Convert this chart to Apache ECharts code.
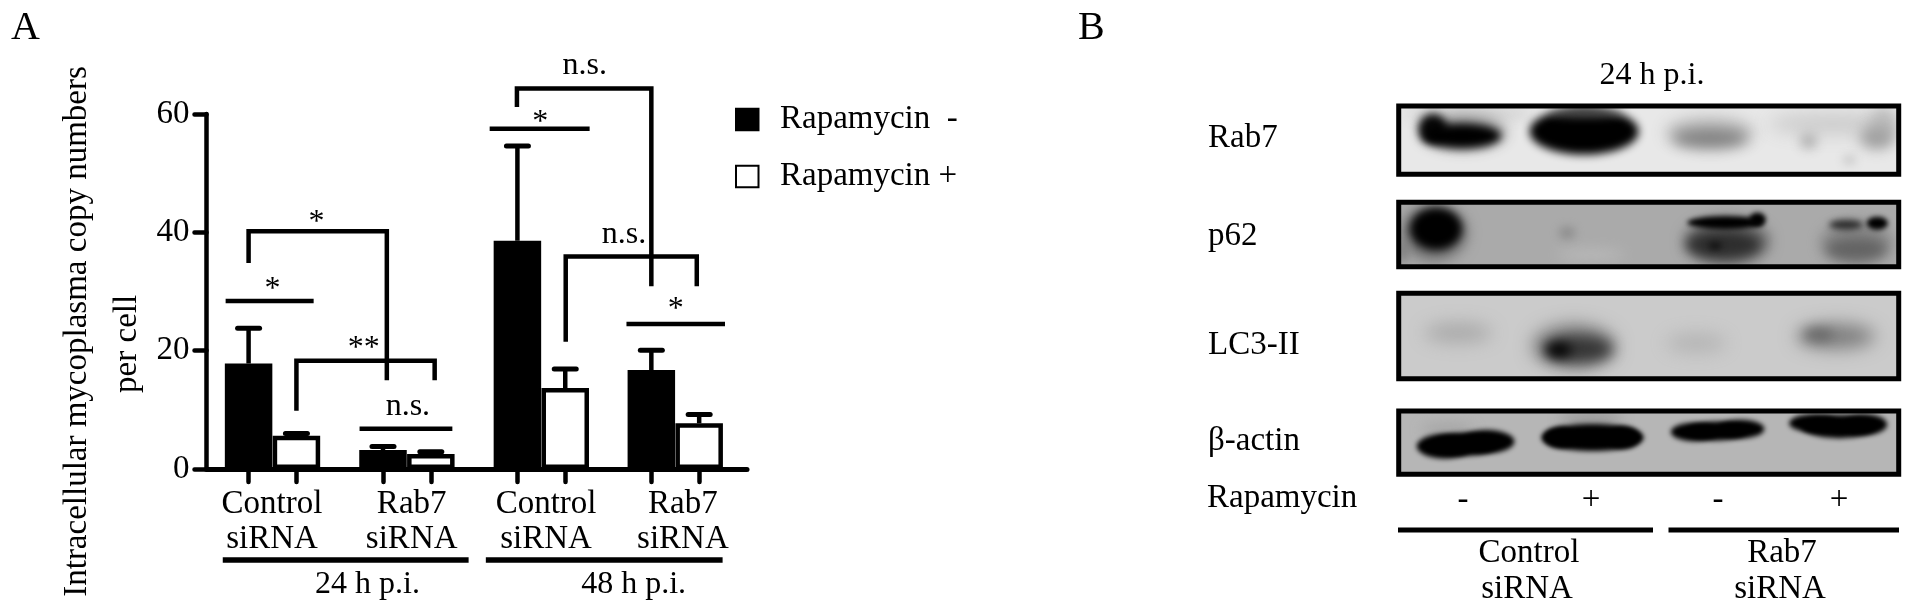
<!DOCTYPE html>
<html>
<head>
<meta charset="utf-8">
<style>html,body{margin:0;padding:0;background:#fff}#c{width:1913px;height:614px}</style>
<script src="https://cdn.jsdelivr.net/npm/echarts@6/dist/echarts.min.js"></script>
</head>
<body>
<div id="c"></div>
<script>
// ---------- Panel A data ----------
const seriesNames = ['Rapamycin  -', 'Rapamycin +'];
const xMinus = [0, 2.81, 5.62, 8.42];
const xPlus = [1, 3.81, 6.62, 9.42];
const minusValues = [17.83, 3.2, 38.58, 16.73];
const plusValues = [5.63, 2.53, 13.69, 7.72];
const minusErrorTop = [23.8, 3.8, 54.6, 20.05];
const plusErrorTop = [6.0, 2.9, 16.9, 9.2];
const yTicks = [0, 20, 40, 60];
const xLabelAt = [0.49, 3.41, 6.22, 9.08];
const xLabels = ['Control\nsiRNA', 'Rab7\nsiRNA', 'Control\nsiRNA', 'Rab7\nsiRNA'];
const yTitle = 'Intracellular mycoplasma copy numbers\nper cell   ';
const brackets = [
  [[0, 34.8], [0, 40.2], [2.89, 40.2], [2.89, 15.0]],
  [[1, 9.85], [1, 18.3], [3.89, 18.3], [3.89, 15.0]],
  [[5.61, 61.2], [5.61, 64.3], [8.42, 64.3], [8.42, 30.9]],
  [[6.63, 21.5], [6.63, 35.9], [9.37, 35.9], [9.37, 30.9]]
];
const sigLines = [
  [[-0.48, 28.4], [1.36, 28.4]],
  [[2.32, 6.8], [4.26, 6.8]],
  [[5.04, 57.5], [7.13, 57.5]],
  [[7.90, 24.5], [9.96, 24.5]]
];
const groupLines = [
  [[-0.54, -15.4], [4.60, -15.4]],
  [[4.96, -15.4], [9.91, -15.4]]
];
const notes = [
  [0.5, 30.25, '*'], [1.42, 41.7, '*'], [2.41, 20.3, '**'], [3.33, 10.5, 'n.s.'],
  [7.03, 68.1, 'n.s.'], [6.10, 58.6, '*'], [7.85, 39.7, 'n.s.'], [8.93, 27.0, '*'],
  [2.485, -19.55, '24 h p.i.'], [8.05, -19.55, '48 h p.i.']
];

// ---------- Panel B data (gel units) ----------
const blotNames = ['Rab7', 'p62', 'LC3-II', '\u03b2-actin'];
const blotFrames = [[55, 47, 1525, 248], [55, 330, 1525, 520], [55, 598, 1525, 849], [55, 944, 1525, 1130]];
const blotBackgrounds = ['#e8e8e8', '#aaaaaa', '#cbcbcb', '#b6b6b6'];
const rab7Bands = [
  [260, 70, 190, 14, '#c4c4c4', 14], [1330, 100, 190, 32, '#cccccc', 18], [1480, 100, 40, 50, '#bcbcbc', 14],
  [245, 125, 125, 48, '#8c8c8c', 14], [155, 112, 42, 42, '#080808', 9], [240, 135, 115, 36, '#000000', 8],
  [600, 122, 160, 68, '#000000', 9], [605, 70, 110, 9, '#666666', 8],
  [970, 125, 130, 44, '#b8b8b8', 16], [970, 142, 110, 26, '#808080', 14],
  [1260, 150, 24, 22, '#acacac', 12], [1460, 140, 50, 34, '#a0a0a0', 14], [1380, 205, 20, 14, '#c8c8c8', 10]
];
const p62Bands = [
  [160, 420, 95, 80, '#6a6a6a', 14], [165, 408, 76, 62, '#000000', 9], [68, 475, 12, 36, '#777777', 10],
  [620, 485, 100, 15, '#bcbcbc', 14], [550, 420, 24, 18, '#8c8c8c', 10],
  [1020, 445, 125, 68, '#666666', 14], [1010, 455, 108, 40, '#2e2e2e', 12], [985, 458, 20, 12, '#141414', 6],
  [1015, 390, 112, 19, '#000000', 5], [1110, 380, 24, 20, '#000000', 5],
  [1400, 450, 105, 62, '#868686', 14], [1400, 468, 88, 32, '#646464', 12],
  [1370, 396, 50, 14, '#2c2c2c', 6], [1462, 392, 31, 19, '#000000', 5]
];
const lc3Bands = [
  [230, 714, 100, 28, '#a8a8a8', 18],
  [570, 754, 122, 64, '#7c7c7c', 18], [585, 762, 98, 38, '#363636', 14], [525, 765, 38, 22, '#000000', 12],
  [930, 744, 90, 28, '#b4b4b4', 18],
  [1340, 724, 115, 36, '#7c7c7c', 18], [1290, 720, 44, 18, '#666666', 12]
];
const actinBands = [
  [620, 970, 95, 15, '#8e8e8e', 14], [200, 1000, 80, 15, '#a0a0a0', 14],
  [190, 1048, 82, 36, '#000000', 5], [315, 1034, 80, 34, '#000000', 5], [250, 1042, 100, 34, '#000000', 5],
  [625, 1022, 150, 40, '#000000', 5], [530, 1022, 48, 30, '#000000', 5], [715, 1022, 50, 32, '#000000', 5],
  [925, 1006, 70, 27, '#000000', 5], [1060, 997, 70, 27, '#000000', 5], [990, 1003, 90, 28, '#000000', 5],
  [1275, 980, 72, 26, '#000000', 5], [1350, 990, 110, 34, '#000000', 5], [1425, 984, 66, 30, '#000000', 5]
];
const blotBands = [rab7Bands, p62Bands, lc3Bands, actinBands];

const SERIF = '"Liberation Serif","Times New Roman",serif';
const FS = 33;
const OFF = 3000;

function polyItem(params, api, pts, w) {
  return {
    type: 'polyline', silent: true,
    shape: { points: pts.map(p => api.coord(p)) },
    style: { fill: null, stroke: '#000', lineWidth: w, lineCap: 'butt', lineJoin: 'miter' }
  };
}
function pageText(text, x, y, size, align) {
  return {
    type: 'text', silent: true, z: 30,
    style: {
      text: text, x: x, y: y, fill: '#000', font: size + 'px ' + SERIF,
      align: align || 'left', textAlign: align || 'left', verticalAlign: 'middle', textVerticalAlign: 'middle'
    }
  };
}
function errorSeries(xs, tops, vals, name) {
  return {
    type: 'custom', name: name, coordinateSystem: 'cartesian2d', xAxisIndex: 0, yAxisIndex: 0, z: 3, silent: true,
    data: xs.map((x, i) => [x, vals[i], tops[i]]),
    encode: { x: 0, y: [1, 2] },
    renderItem(params, api) {
      const a = api.coord([api.value(0), api.value(1)]);
      const b = api.coord([api.value(0), api.value(2)]);
      return {
        type: 'group', children: [
          { type: 'line', shape: { x1: a[0], y1: a[1], x2: b[0], y2: b[1] }, style: { stroke: '#000', lineWidth: 4.5 } },
          { type: 'line', shape: { x1: b[0] - 11, y1: b[1], x2: b[0] + 11, y2: b[1] }, style: { stroke: '#000', lineWidth: 5, lineCap: 'round' } }
        ]
      };
    }
  };
}

const chart = echarts.init(document.getElementById('c'), null, { renderer: 'canvas', width: 1913, height: 614 });
chart.setOption({
  animation: false,
  backgroundColor: '#fff',
  textStyle: { fontFamily: SERIF },
  legend: {
    data: seriesNames,
    icon: 'rect',
    orient: 'vertical', left: 730, top: 98,
    itemWidth: 22.5, itemHeight: 21.5, itemGap: 24,
    selectedMode: false,
    textStyle: { fontFamily: SERIF, fontSize: FS, color: '#000', padding: [0, 0, 0, 16.5] }
  },
  grid: [
    { left: 206.5, top: 114, width: 540.5, height: 355, outerBoundsMode: 'none' },
    { left: 1380, top: 90, width: 533, height: 408, outerBoundsMode: 'none' }
  ],
  xAxis: [
    {
      type: 'value', gridIndex: 0, min: -0.88, max: 10.42, splitLine: { show: false },
      axisLine: { show: true, onZero: false, lineStyle: { color: '#000', width: 5, cap: 'round' } },
      axisTick: { show: true, length: 13, lineStyle: { color: '#000', width: 4.5, cap: 'round' }, customValues: xMinus.concat(xPlus) },
      axisLabel: {
        show: true, customValues: xLabelAt, margin: 18, color: '#000', fontFamily: SERIF, fontSize: FS, lineHeight: 35,
        formatter: v => xLabels[xLabelAt.indexOf(v)]
      }
    },
    { type: 'value', gridIndex: 1, min: 0, max: 1567, show: false }
  ],
  yAxis: [
    {
      type: 'value', gridIndex: 0, min: 0, max: 60, interval: 20, splitLine: { show: false },
      name: yTitle, nameLocation: 'middle', nameRotate: 90, nameGap: 49,
      nameTextStyle: { fontFamily: SERIF, fontSize: FS, color: '#000', lineHeight: 50, padding: [0, 80, 0, 0] },
      axisLine: { show: true, onZero: false, lineStyle: { color: '#000', width: 4.5, cap: 'round' } },
      axisTick: { show: true, length: 12, lineStyle: { color: '#000', width: 4.5, cap: 'round' } },
      axisLabel: { margin: 17, color: '#000', fontFamily: SERIF, fontSize: FS, customValues: yTicks }
    },
    { type: 'value', gridIndex: 1, min: 0, max: 1200, inverse: true, show: false }
  ],
  series: [
    errorSeries(xMinus, minusErrorTop, minusValues, 'minus error'),
    errorSeries(xPlus, plusErrorTop, plusValues, 'plus error'),
    {
      type: 'bar', name: seriesNames[0], xAxisIndex: 0, yAxisIndex: 0, barWidth: 47.5, barGap: '-100%', z: 4, silent: true,
      data: xMinus.map((x, i) => [x, minusValues[i]]),
      itemStyle: { color: '#000', borderColor: '#000', borderWidth: 4.5, borderJoin: 'miter' }
    },
    {
      type: 'bar', name: seriesNames[1], xAxisIndex: 0, yAxisIndex: 0, barWidth: 47.5, barGap: '-100%', z: 5, silent: true,
      data: xPlus.map((x, i) => [x, plusValues[i]]),
      itemStyle: { color: '#fff', borderColor: '#000', borderWidth: 4.5, borderJoin: 'miter' }
    },
    {
      type: 'custom', name: 'brackets', coordinateSystem: 'cartesian2d', xAxisIndex: 0, yAxisIndex: 0, z: 6, silent: true, clip: false,
      data: brackets.map((_, i) => [i]), encode: { x: [], y: [] },
      renderItem(params, api) { return polyItem(params, api, brackets[params.dataIndex], 4.5); }
    },
    {
      type: 'custom', name: 'significance lines', coordinateSystem: 'cartesian2d', xAxisIndex: 0, yAxisIndex: 0, z: 6, silent: true, clip: false,
      data: sigLines.concat(groupLines).map((_, i) => [i]), encode: { x: [], y: [] },
      renderItem(params, api) {
        const all = sigLines.concat(groupLines);
        return polyItem(params, api, all[params.dataIndex], params.dataIndex < sigLines.length ? 4.5 : 5.5);
      }
    },
    {
      type: 'custom', name: 'notes', coordinateSystem: 'cartesian2d', xAxisIndex: 0, yAxisIndex: 0, z: 7, silent: true, clip: false,
      data: notes.map((_, i) => [i]), encode: { x: [], y: [] },
      renderItem(params, api) {
        const n = notes[params.dataIndex];
        const p = api.coord([n[0], n[1]]);
        return pageText(n[2], p[0], p[1], 32, 'center');
      }
    },
    {
      type: 'custom', name: 'blots', coordinateSystem: 'cartesian2d', xAxisIndex: 1, yAxisIndex: 1, z: 2, silent: true, clip: false,
      data: blotFrames.map((_, i) => [i]), encode: { x: [], y: [] },
      renderItem(params, api) {
        const i = params.dataIndex, f = blotFrames[i];
        const a = api.coord([f[0], f[1]]), b = api.coord([f[2], f[3]]);
        const rect = { x: a[0], y: a[1], width: b[0] - a[0], height: b[1] - a[1] };
        const unit = api.size([1, 1]);
        const kids = [{ type: 'rect', shape: rect, style: { fill: blotBackgrounds[i] } }];
        blotBands[i].forEach(d => {
          const c = api.coord([d[0], d[1]]);
          // Only the blurred shadow lands in the blot, so band edges stay soft.
          kids.push({
            type: 'ellipse',
            shape: { cx: c[0] - OFF, cy: c[1], rx: d[2] * unit[0], ry: d[3] * unit[1] },
            style: { fill: d[4], shadowColor: d[4], shadowBlur: d[5], shadowOffsetX: OFF }
          });
        });
        return {
          type: 'group', children: [
            { type: 'group', children: kids, clipPath: { type: 'rect', shape: rect } },
            { type: 'rect', shape: rect, style: { fill: null, stroke: '#000', lineWidth: 5 } }
          ]
        };
      }
    }
  ],
  graphic: [
    pageText('A', 11, 28, 40),
    pageText('B', 1078, 28, 40),
    pageText('24 h p.i.', 1652, 76, 32, 'center'),
    pageText(blotNames[0], 1208, 138, FS),
    pageText(blotNames[1], 1208, 236, FS),
    pageText(blotNames[2], 1208, 345, FS),
    pageText(blotNames[3], 1208, 441, FS),
    pageText('Rapamycin', 1207, 498, FS),
    pageText('-', 1463, 500, FS, 'center'),
    pageText('+', 1591, 500, FS, 'center'),
    pageText('-', 1718, 500, FS, 'center'),
    pageText('+', 1839, 500, FS, 'center'),
    pageText('Control', 1529, 553, FS, 'center'),
    pageText('siRNA', 1527, 589, FS, 'center'),
    pageText('Rab7', 1782, 553, FS, 'center'),
    pageText('siRNA', 1780, 589, FS, 'center'),
    { type: 'rect', silent: true, shape: { x: 1398, y: 527.5, width: 255, height: 5 }, style: { fill: '#000' } },
    { type: 'rect', silent: true, shape: { x: 1668.5, y: 527.5, width: 230.5, height: 5 }, style: { fill: '#000' } }
  ]
});
</script>
</body>
</html>
